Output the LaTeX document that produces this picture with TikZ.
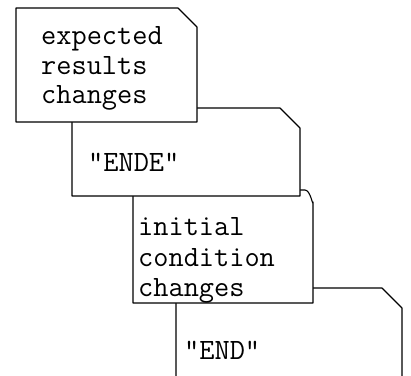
\documentclass[tikz,border=0pt]{standalone}
\begin{document}
\begin{tikzpicture}[x=1pt,y=-1pt,
  card/.style={draw=black,fill=white,line width=1.1pt,line join=round},
  cardtext/.style={anchor=base west,inner sep=0pt,font=\fontsize{29.5}{29.5}\selectfont\ttfamily,align=left}]
\useasboundingbox (0,0) rectangle (411,375);
% card 4 (bottom-most)
\path[card] (176,376) -- (176,288) -- (382,288) -- (402,308) -- (402,376);
% card 3
\path[card] (133,303) -- (133,190) -- (305,190) to[out=0,in=-90] (313,202) -- (313,303) -- cycle;
% card 2
\path[card] (72,196) -- (72,108) -- (280,108) -- (300,128) -- (300,196) -- cycle;
% card 1 (top)
\path[card] (16,122) -- (16,8) -- (178,8) -- (197,27) -- (197,122) -- cycle;
% texts
\node[cardtext] (t1a) at (41,44) {expected};
\node[cardtext] (t1b) at (41,74) {results};
\node[cardtext] (t1c) at (41,103) {changes};
\node[cardtext] (t2) at (88,171) {"ENDE"};
\node[cardtext] (t3a) at (138,235) {initial};
\node[cardtext] (t3b) at (138,266) {condition};
\node[cardtext] (t3c) at (138,296) {changes};
\node[cardtext] (t4) at (184,359) {"END"};
\end{tikzpicture}
\end{document}
